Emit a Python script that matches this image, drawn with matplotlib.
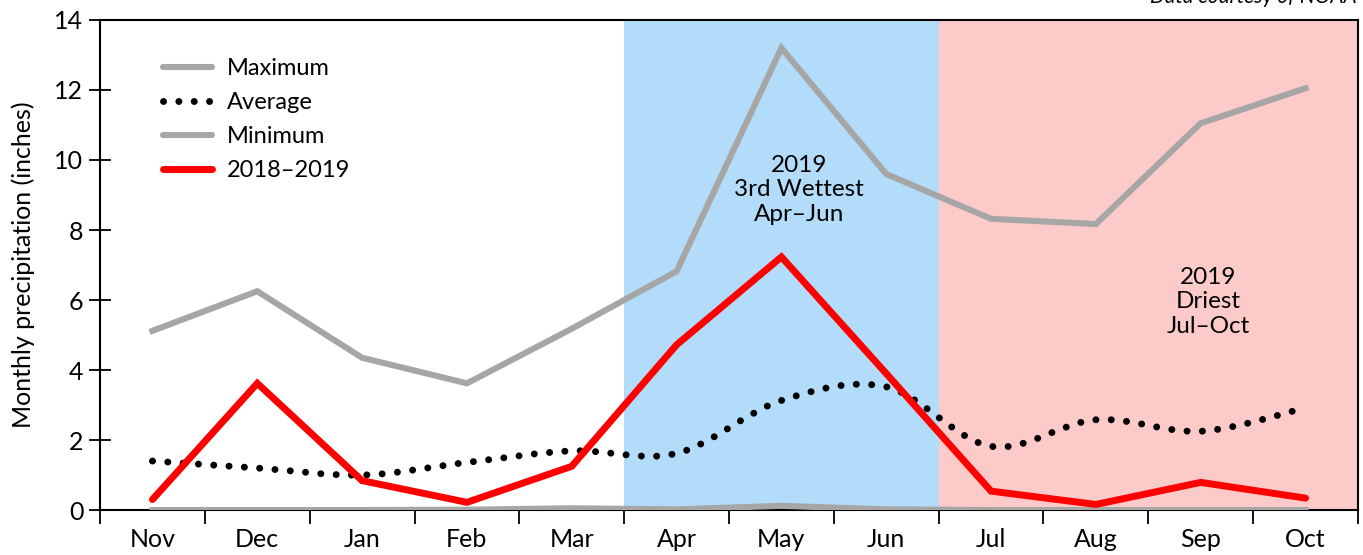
import matplotlib.pyplot as plt
from matplotlib.path import Path
import matplotlib.patches as mpatches
import numpy as np

plt.rcParams['font.family'] = ['Lato', 'DejaVu Sans']

months = ['Nov', 'Dec', 'Jan', 'Feb', 'Mar', 'Apr', 'May', 'Jun', 'Jul', 'Aug', 'Sep', 'Oct']
maximum = [5.12, 6.25, 4.35, 3.62, 5.18, 6.82, 13.2, 9.6, 8.32, 8.17, 11.05, 12.05]
average = [1.4, 1.2, 1.0, 1.36, 1.69, 1.62, 3.13, 3.52, 1.82, 2.58, 2.25, 2.92]
minimum = [0.0, 0.0, 0.0, 0.01, 0.05, 0.02, 0.12, 0.02, 0.0, 0.0, 0.0, 0.0]
season = [0.3, 3.62, 0.84, 0.22, 1.25, 4.72, 7.23, 3.9, 0.54, 0.16, 0.79, 0.34]

GRAY = '#a6a6a6'
RED = '#ff0000'
DOTS = (0, (0.01, 2.2))


def smooth_path(x, y):
    # Excel-style smoothed line: cubic bezier through each point
    pts = np.column_stack([x, y]).astype(float)
    n = len(pts)
    verts = [pts[0]]
    codes = [Path.MOVETO]
    for i in range(n - 1):
        p0 = pts[max(i - 1, 0)]
        p1 = pts[i]
        p2 = pts[i + 1]
        p3 = pts[min(i + 2, n - 1)]
        c1 = p1 + (p2 - p0) / 6.0
        c2 = p2 - (p3 - p1) / 6.0
        verts += [c1, c2, p2]
        codes += [Path.CURVE4] * 3
    return Path(verts, codes)


fig = plt.figure(figsize=(13.63, 5.55), dpi=100)
ax = fig.add_axes([0.0734, 0.081, 0.9229, 0.883])
x = np.arange(len(months))

ax.axvspan(4.5, 7.5, color='#b3dcfa', lw=0, zorder=0)
ax.axvspan(7.5, 11.5, color='#fdcaca', lw=0, zorder=0)

ax.plot(x, maximum, color=GRAY, lw=4.4, solid_joinstyle='miter', zorder=3)
avg = mpatches.PathPatch(smooth_path(x, average), facecolor='none', edgecolor='black',
                         lw=5, linestyle=DOTS, capstyle='round', zorder=4)
ax.add_patch(avg)
ax.plot(x, minimum, color=GRAY, lw=4.4, zorder=3)
ax.plot(x, season, color=RED, lw=5, solid_capstyle='round', solid_joinstyle='miter', zorder=5)

h_max = plt.Line2D([], [], color=GRAY, lw=4.4, solid_capstyle='round')
h_avg = plt.Line2D([], [], color='black', lw=5, linestyle=DOTS, dash_capstyle='round')
h_min = plt.Line2D([], [], color=GRAY, lw=4.4, solid_capstyle='round')
h_red = plt.Line2D([], [], color=RED, lw=5, solid_capstyle='round')
ax.legend([h_max, h_avg, h_min, h_red], ['Maximum', 'Average', 'Minimum', '2018\u20132019'],
          loc='upper left', bbox_to_anchor=(0.033, 0.965), frameon=False, fontsize=17,
          handlelength=2.1, handletextpad=0.6, labelspacing=0.55)

ax.text(6.17, 9.15, '2019\n3rd Wettest\nApr\u2013Jun', ha='center', va='center',
        fontsize=17.5, linespacing=1.2)
ax.text(10.07, 5.95, '2019\nDriest\nJul\u2013Oct', ha='center', va='center',
        fontsize=17.5, linespacing=1.2)

ax.set_xlim(-0.5, 11.5)
ax.set_ylim(0, 14)
ax.set_yticks(np.arange(0, 15, 2))
ax.tick_params(axis='y', direction='inout', length=16, width=1.3, labelsize=18, pad=4)
ax.set_xticks(np.arange(-0.5, 12, 1))
ax.set_xticklabels([])
ax.set_xticks(x, minor=True)
ax.set_xticklabels(months, minor=True)
ax.tick_params(axis='x', which='major', direction='out', length=10, width=1.3)
ax.tick_params(axis='x', which='minor', length=0, labelsize=18, pad=13)
ax.set_ylabel('Monthly precipitation (inches)', fontsize=18, labelpad=14)

for s in ax.spines.values():
    s.set_linewidth(1.5)
    s.set_color('black')

fig.text(0.9955, 1 - 7 / 555, 'Data courtesy of NOAA', ha='right', va='bottom',
         fontsize=15, style='italic')

fig.savefig('out.png', dpi=100)
